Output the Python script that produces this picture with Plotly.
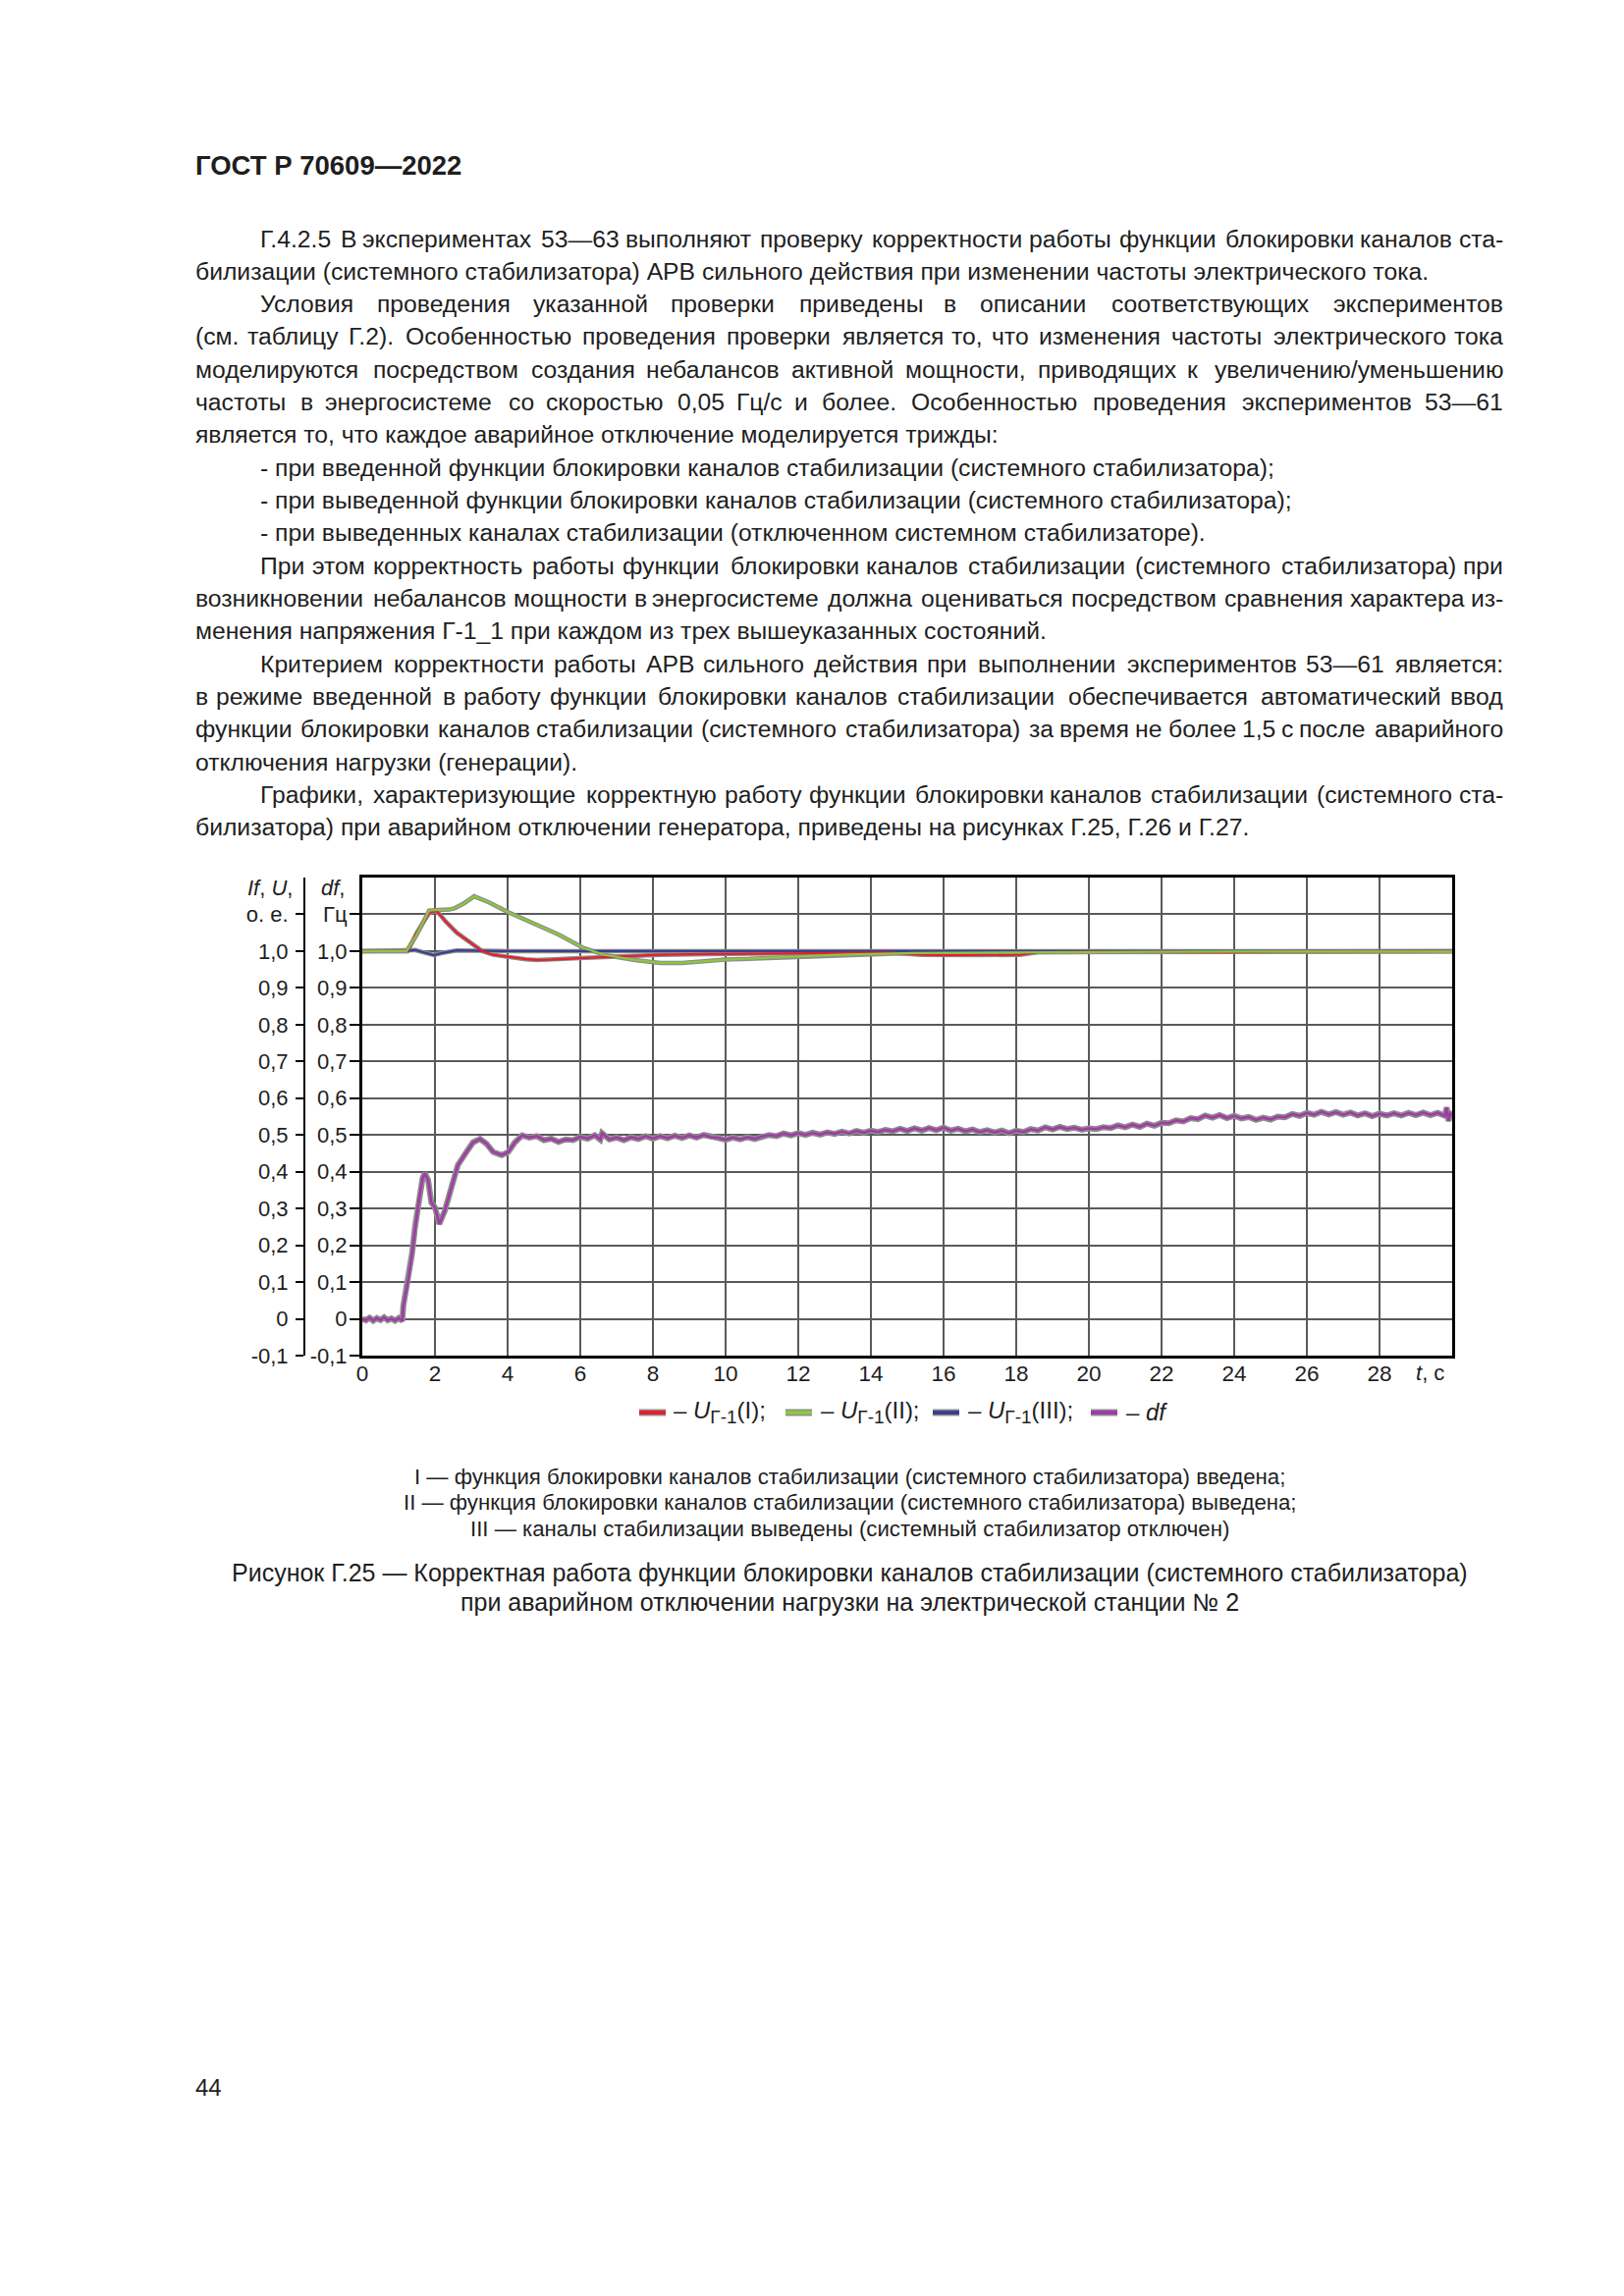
import plotly.graph_objects as go

# ---------------- data ----------------
t_u1 = [0, 1.25, 1.5, 1.85, 2.05, 2.3, 2.6, 3.0, 3.3, 3.6, 4.0, 4.5, 4.8, 5.2, 6.0, 7.0,
        8.2, 9.5, 11.0, 13.2, 14.5, 15.4, 16.0, 17.0, 18.1, 18.6, 20.0, 24.0, 25.0, 30.0]
u1 = [1.0, 1.0, 1.05, 1.105, 1.109, 1.08, 1.05, 1.02, 1.0, 0.99, 0.984, 0.978, 0.976, 0.977,
      0.981, 0.985, 0.99, 0.992, 0.994, 0.995, 0.996, 0.99, 0.989, 0.989, 0.99, 0.997, 0.998,
      0.997, 0.999, 1.0]

t_u2 = [0, 1.22, 1.5, 1.84, 2.1, 2.4, 2.55, 2.8, 3.08, 3.5, 3.97, 4.4, 4.7, 5.0, 5.4, 5.8,
        6.1, 6.7, 7.5, 8.2, 8.8, 10.0, 11.9, 13.1, 15.2, 18.0, 22.0, 26.0, 30.0]
u2 = [1.0, 1.0, 1.045, 1.11, 1.112, 1.113, 1.117, 1.13, 1.149, 1.132, 1.108, 1.089, 1.075,
      1.062, 1.045, 1.024, 1.008, 0.989, 0.976, 0.968, 0.968, 0.977, 0.984, 0.99, 0.995,
      0.997, 0.998, 0.999, 0.999]

t_u3 = [0, 1.2, 1.45, 1.7, 1.97, 2.2, 2.6, 3.2, 4.0, 30.0]
u3 = [1.0, 1.0, 1.003, 0.996, 0.989, 0.995, 1.002, 1.001, 1.0, 1.0]

t_df = [0, 0.1, 0.2, 0.3, 0.4, 0.5, 0.6, 0.7, 0.8, 0.9, 1.0, 1.1, 1.13, 1.25, 1.37, 1.45,
        1.54, 1.66, 1.72, 1.81, 1.9, 2.0, 2.12, 2.27, 2.45, 2.63, 2.87, 3.05, 3.24, 3.42,
        3.6, 3.84, 4.02, 4.2, 4.4, 4.6, 4.8, 5.0, 5.2, 5.4, 5.6, 5.8, 6.0, 6.2, 6.4, 6.55,
        6.6, 6.8, 7.0, 7.2, 7.4, 7.6, 7.8, 8.0, 8.2, 8.4, 8.6, 8.8, 9.0, 9.2, 9.4, 9.6,
        9.8, 10.0, 10.2, 10.4, 10.6, 10.8, 11.0, 11.2, 11.4, 11.6, 11.8, 12.0, 12.2, 12.4,
        12.6, 12.8, 13.0, 13.2, 13.4, 13.6, 13.8, 14.0, 14.2, 14.4, 14.6, 14.8, 15.0, 15.2,
        15.4, 15.6, 15.8, 16.0, 16.2, 16.4, 16.6, 16.8, 17.0, 17.2, 17.4, 17.6, 17.8, 18.0,
        18.2, 18.4, 18.6, 18.8, 19.0, 19.2, 19.4, 19.6, 19.8, 20.0, 20.2, 20.4, 20.6, 20.8,
        21.0, 21.2, 21.4, 21.6, 21.8, 22.0, 22.2, 22.4, 22.6, 22.8, 23.0, 23.2, 23.4, 23.6,
        23.8, 24.0, 24.2, 24.4, 24.6, 24.8, 25.0, 25.2, 25.4, 25.6, 25.8, 26.0, 26.2, 26.4,
        26.6, 26.8, 27.0, 27.2, 27.4, 27.6, 27.8, 28.0, 28.2, 28.4, 28.6, 28.8, 29.0, 29.2,
        29.4, 29.6, 29.8, 29.85, 29.9, 29.95, 30.0]
df = [0.0, -0.004, 0.003, -0.005, 0.002, -0.003, 0.004, -0.004, 0.001, -0.005, 0.002,
      -0.006, 0.036, 0.098, 0.178, 0.249, 0.311, 0.383, 0.396, 0.378, 0.316, 0.303, 0.258,
      0.294, 0.356, 0.418, 0.454, 0.48, 0.489, 0.476, 0.454, 0.445, 0.454, 0.48, 0.499,
      0.493, 0.497, 0.486, 0.49, 0.481, 0.488, 0.486, 0.495, 0.49, 0.499, 0.487, 0.505,
      0.488, 0.493, 0.486, 0.494, 0.489, 0.497, 0.49, 0.497, 0.491, 0.498, 0.492, 0.499,
      0.493, 0.5, 0.494, 0.492, 0.487, 0.493, 0.488, 0.494, 0.489, 0.496, 0.5, 0.497, 0.504,
      0.499, 0.505, 0.5, 0.506, 0.501, 0.507, 0.503, 0.509, 0.504, 0.511, 0.506, 0.512,
      0.508, 0.514, 0.51, 0.517, 0.511, 0.518, 0.512, 0.519, 0.513, 0.52, 0.512, 0.517,
      0.51, 0.515, 0.508, 0.513, 0.507, 0.512, 0.505, 0.512, 0.508, 0.516, 0.512, 0.521,
      0.515, 0.522, 0.516, 0.52, 0.514, 0.518, 0.516, 0.521, 0.519, 0.526, 0.521, 0.528,
      0.522, 0.531, 0.525, 0.533, 0.532, 0.54, 0.537, 0.546, 0.543, 0.553, 0.547, 0.554,
      0.546, 0.552, 0.545, 0.549, 0.541, 0.547, 0.542, 0.55, 0.548, 0.557, 0.552, 0.56,
      0.555, 0.563, 0.556, 0.562, 0.555, 0.561, 0.553, 0.559, 0.551, 0.558, 0.553, 0.559,
      0.553, 0.56, 0.554, 0.561, 0.554, 0.56, 0.552, 0.575, 0.538, 0.558, 0.555]

y_tick_vals = [-0.1, 0.0, 0.1, 0.2, 0.3, 0.4, 0.5, 0.6, 0.7, 0.8, 0.9, 1.0, 1.1]
y_tick_text_outer = ["-0,1", "0", "0,1", "0,2", "0,3", "0,4", "0,5", "0,6", "0,7", "0,8",
                     "0,9", "1,0", "о. е."]
y_tick_text_inner = ["-0,1", "0", "0,1", "0,2", "0,3", "0,4", "0,5", "0,6", "0,7", "0,8",
                     "0,9", "1,0", "Гц"]
x_tick_vals = [0, 2, 4, 6, 8, 10, 12, 14, 16, 18, 20, 22, 24, 26, 28]
x_tick_text = ["0", "2", "4", "6", "8", "10", "12", "14", "16", "18", "20", "22", "24",
               "26", "28"]

SUB = "<sub><span style='font-size:19px'>Г-1</span></sub>"
legend_names = ["– <i>U</i>" + SUB + "(I);", "– <i>U</i>" + SUB + "(II);",
                "– <i>U</i>" + SUB + "(III);", "– <i>df</i>"]

# ---------------- page layout ----------------
W, H = 1654, 2339
ML, MR, MT, MB = 250, 175, 894, 958
PW = W - ML - MR
PH = H - MT - MB
FONT = "Liberation Sans, Arial, sans-serif"
INK = "#1e1e1e"

RED = "#e3202c"
GREEN = "#8dc63f"
BLUE = "#3b3f8f"
PURPLE = "#a23aa6"
HALO = "#8c8c8c"


def px(x):
    return (x - ML) / PW


def py(y):
    return (H - MB - y) / PH


annotations = []
shapes = []


def add_text(x, y, text, size, anchor="left", color=INK):
    annotations.append(dict(x=px(x), y=py(y), xref="paper", yref="paper", text=text,
                            showarrow=False, xanchor=anchor, yanchor="middle",
                            borderpad=0, font=dict(size=size, family=FONT, color=color)))


CW = {}
for ch, w in zip("абвгдеёжзийклмнопрстуфхцчшщъыьэюя",
                 [.556, .562, .533, .365, .573, .556, .556, .669, .456, .56, .56, .446, .56,
                  .684, .551, .556, .545, .556, .5, .454, .5, .823, .5, .574, .521, .802,
                  .825, .628, .72, .522, .511, .75, .542]):
    CW[ch] = w
for ch, w in zip("АБВГДЕЖЗИЙКЛМНОПРСТУФХЦЧШЩЭЮЯ",
                 [.667, .66, .667, .542, .683, .667, .927, .611, .722, .722, .584, .66, .833,
                  .722, .778, .722, .667, .722, .611, .635, .76, .667, .74, .667, .917, .938,
                  .722, 1.01, .722]):
    CW[ch] = w
for ch in "0123456789":
    CW[ch] = .556
CW.update({" ": .278, ".": .278, ",": .278, ":": .278, ";": .278, "(": .333, ")": .333,
           "-": .333, "—": 1.0, "/": .278, "_": .556, "№": 1.0})


def text_w(s, size):
    return sum(CW.get(c, .556) for c in s) * size * 1.022


# header
add_text(198, 168, "<b>ГОСТ Р 70609—2022</b>", 27.5)

body_lines = [
    ("Г.4.2.5  В экспериментах 53—63 выполняют проверку корректности работы функции блокировки каналов ста-", True, True),
    ("билизации (системного стабилизатора) АРВ сильного действия при изменении частоты электрического тока.", False, False),
    ("Условия проведения указанной проверки приведены в описании соответствующих экспериментов", True, True),
    ("(см. таблицу Г.2). Особенностью проведения проверки является то, что изменения частоты электрического тока", False, True),
    ("моделируются посредством создания небалансов активной мощности, приводящих к увеличению/уменьшению", False, True),
    ("частоты в энергосистеме со скоростью 0,05 Гц/с и более. Особенностью проведения экспериментов 53—61", False, True),
    ("является то, что каждое аварийное отключение моделируется трижды:", False, False),
    ("- при введенной функции блокировки каналов стабилизации (системного стабилизатора);", True, False),
    ("- при выведенной функции блокировки каналов стабилизации (системного стабилизатора);", True, False),
    ("- при выведенных каналах стабилизации (отключенном системном стабилизаторе).", True, False),
    ("При этом корректность работы функции блокировки каналов стабилизации (системного стабилизатора) при", True, True),
    ("возникновении небалансов мощности в энергосистеме должна оцениваться посредством сравнения характера из-", False, True),
    ("менения напряжения Г-1_1 при каждом из трех вышеуказанных состояний.", False, False),
    ("Критерием корректности работы АРВ сильного действия при выполнении экспериментов 53—61 является:", True, True),
    ("в режиме введенной в работу функции блокировки каналов стабилизации обеспечивается автоматический ввод", False, True),
    ("функции блокировки каналов стабилизации (системного стабилизатора) за время не более 1,5 с после аварийного", False, True),
    ("отключения нагрузки (генерации).", False, False),
    ("Графики, характеризующие корректную работу функции блокировки каналов стабилизации (системного ста-", True, True),
    ("билизатора) при аварийном отключении генератора, приведены на рисунках Г.25, Г.26 и Г.27.", False, False),
]

BODY = 24.7
LEFT, INDENT, RIGHT = 198, 264, 1532
for i, (line, indent, justify) in enumerate(body_lines):
    y = 243 + 33.33 * i
    x0 = INDENT if indent else LEFT
    if justify:
        words = line.split()
        n = len(words)
        ws = [text_w(w, BODY) for w in words]
        gap = (RIGHT - x0 - sum(ws)) / (n - 1)
        half = n // 2
        # left half: placed from the left margin
        x = x0
        for j in range(half):
            add_text(x, y, words[j], BODY, "left")
            x += ws[j] + gap
        # right half: placed from the right margin
        xr = RIGHT
        for j in range(n - 1, half - 1, -1):
            add_text(xr, y, words[j], BODY, "right")
            xr -= ws[j] + gap
    else:
        add_text(x0, y, line, BODY, "left")

# axis title texts
add_text(299, 904, "<i>If</i>, <i>U</i>,", 22, "right")
add_text(326, 904, "<i>df</i>,", 22, "left")
add_text(1456, 1398, "<i>t</i>, с", 22, "center")

# legend drawn by hand
leg_items = [(651, 678, 685, RED), (800, 827, 835, GREEN), (950, 977, 985, BLUE),
             (1111, 1138, 1146, PURPLE)]
for (x1, x2, xt, col), name in zip(leg_items, legend_names):
    for c, wdt in ((HALO, 7), (col, 4)):
        shapes.append(dict(type="line", xref="paper", yref="paper", x0=px(x1), x1=px(x2),
                           y0=py(1439), y1=py(1439), line=dict(color=c, width=wdt)))
    add_text(xt, 1438, name, 24, "left")

# notes and caption
notes = ["I — функция блокировки каналов стабилизации (системного стабилизатора) введена;",
         "II — функция блокировки каналов стабилизации (системного стабилизатора) выведена;",
         "III — каналы стабилизации выведены (системный стабилизатор отключен)"]
for k, s in enumerate(notes):
    add_text(865, 1504 + 26.5 * k, s, 22.2, "center")
caption = ["Рисунок Г.25 — Корректная работа функции блокировки каналов стабилизации (системного стабилизатора)",
           "при аварийном отключении нагрузки на электрической станции № 2"]
for k, s in enumerate(caption):
    add_text(865, 1602 + 30 * k, s, 25, "center")

add_text(198, 2126, "44", 24, "left")

# ---------------- traces ----------------
fig = go.Figure()
series_u = [(t_u3, u3, BLUE), (t_u1, u1, RED), (t_u2, u2, GREEN)]
for t, v, col in series_u:
    fig.add_trace(go.Scatter(x=t, y=v, mode="lines", yaxis="y2", showlegend=False,
                             line=dict(color=HALO, width=4.5), hoverinfo="skip"))
for t, v, col in series_u:
    fig.add_trace(go.Scatter(x=t, y=v, mode="lines", yaxis="y2", showlegend=False,
                             line=dict(color=col, width=2.2)))
fig.add_trace(go.Scatter(x=t_df, y=df, mode="lines", yaxis="y", showlegend=False,
                         line=dict(color=HALO, width=6), hoverinfo="skip"))
fig.add_trace(go.Scatter(x=t_df, y=df, mode="lines", yaxis="y", showlegend=False,
                         line=dict(color=PURPLE, width=2.6)))

x_dom0 = px(369)
fig.update_layout(
    width=W, height=H,
    margin=dict(l=ML, r=MR, t=MT, b=MB, pad=0),
    paper_bgcolor="white", plot_bgcolor="white",
    font=dict(family=FONT, size=22, color=INK),
    showlegend=False,
    xaxis=dict(domain=[x_dom0, 1], range=[0, 30], tickvals=x_tick_vals, ticktext=x_tick_text,
               showgrid=True, gridcolor="#5a5a5a", gridwidth=1.5, zeroline=False,
               showline=True, mirror=True, linecolor="black", linewidth=3,
               ticks="", ticklabelstandoff=-4, tickfont=dict(size=22.5, color=INK)),
    yaxis=dict(range=[-0.1, 1.2], tickvals=y_tick_vals, ticktext=y_tick_text_inner,
               showgrid=True, gridcolor="#5a5a5a", gridwidth=1.5, zeroline=False,
               showline=True, mirror=True, linecolor="black", linewidth=3,
               ticks="outside", ticklen=10, tickwidth=2, tickcolor="black",
               ticklabelstandoff=-2, tickfont=dict(size=22, color=INK)),
    yaxis2=dict(range=[-0.1, 1.2], overlaying="y", anchor="free", side="left",
                position=px(310), tickvals=y_tick_vals, ticktext=y_tick_text_outer,
                showgrid=False, zeroline=False, showline=True, linecolor="black",
                linewidth=2, ticks="outside", ticklen=8, tickwidth=2, tickcolor="black",
                ticklabelstandoff=3, tickfont=dict(size=22, color=INK)),
    annotations=annotations,
    shapes=shapes,
)

fig.write_html("out.html", config={"displayModeBar": False},
               post_script="document.body.style.margin='0';document.body.style.overflow='hidden';")
